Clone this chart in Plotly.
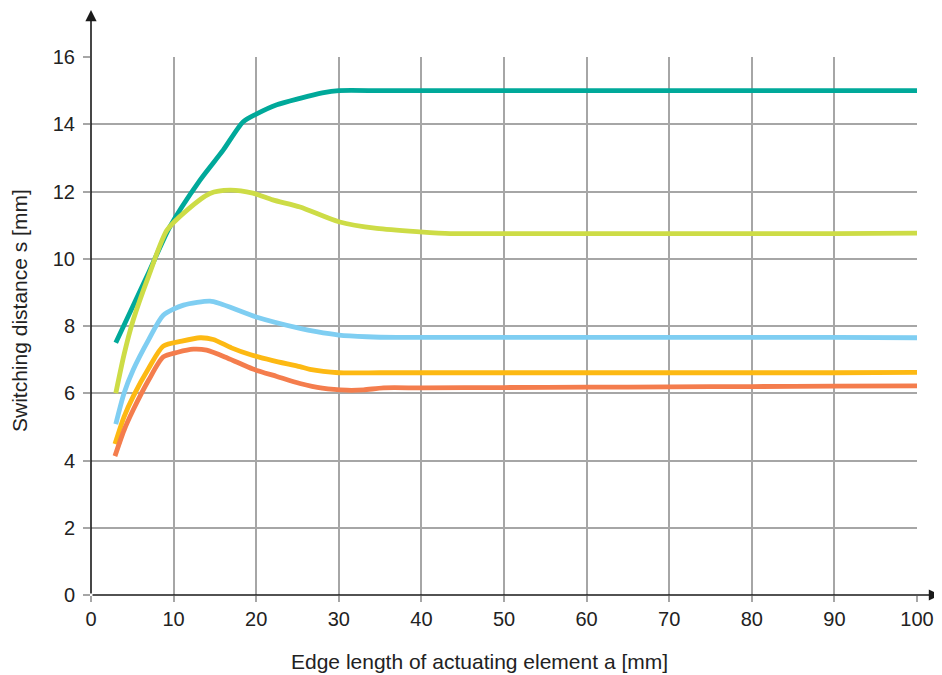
import plotly.graph_objects as go

# Data
teal_x = [3, 5, 7, 9.5, 13.2, 16, 18.4, 20, 22.5, 25.3, 28, 30, 35, 40, 50, 60, 70, 80, 90, 100]
teal_y = [7.5, 8.55, 9.6, 10.93, 12.34, 13.23, 14.07, 14.3, 14.58, 14.77, 14.93, 15.0, 15.0, 15.0, 15.0, 15.0, 15.0, 15.0, 15.0, 15.0]

lime_x = [3, 4, 5.1, 7, 9.2, 11.6, 14.4, 16.8, 19.6, 22, 25.3, 30, 34.6, 39.8, 43.5, 50, 60, 70, 80, 90, 100]
lime_y = [6.0, 7.15, 8.17, 9.5, 10.85, 11.44, 11.94, 12.04, 11.95, 11.75, 11.54, 11.1, 10.9, 10.8, 10.75, 10.75, 10.75, 10.75, 10.75, 10.75, 10.76]

blue_x = [3, 4, 5.1, 7, 8.75, 11.2, 14.4, 15.6, 20, 25.3, 27.3, 30, 33.4, 37, 40, 50, 60, 70, 80, 90, 100]
blue_y = [5.08, 6.0, 6.69, 7.6, 8.32, 8.62, 8.74, 8.67, 8.27, 7.93, 7.83, 7.73, 7.68, 7.66, 7.66, 7.66, 7.66, 7.66, 7.66, 7.66, 7.65]

orange_x = [2.9, 4, 5.1, 7, 8.75, 11, 13.2, 14.8, 17, 19.25, 22, 25.3, 26.5, 30, 35, 40, 50, 60, 70, 80, 90, 100]
orange_y = [4.49, 5.3, 5.9, 6.75, 7.4, 7.55, 7.65, 7.6, 7.35, 7.15, 6.97, 6.79, 6.71, 6.61, 6.61, 6.61, 6.61, 6.61, 6.61, 6.61, 6.61, 6.62]

red_x = [2.9, 4, 5.1, 7, 8.75, 10.5, 12.4, 14, 16.5, 19.6, 22.5, 25.3, 28, 31, 33, 35.4, 40, 50, 60, 70, 80, 90, 100]
red_y = [4.13, 4.9, 5.5, 6.4, 7.08, 7.22, 7.31, 7.28, 7.05, 6.72, 6.5, 6.29, 6.15, 6.09, 6.1, 6.16, 6.16, 6.17, 6.18, 6.19, 6.2, 6.21, 6.22]

x_ticks = [0, 10, 20, 30, 40, 50, 60, 70, 80, 90, 100]
y_ticks = [0, 2, 4, 6, 8, 10, 12, 14, 16]

x_title = "Edge length of actuating element a [mm]"
y_title = "Switching distance s [mm]"

series = [
    (teal_x, teal_y, "#00a99a"),
    (lime_x, lime_y, "#cddc46"),
    (blue_x, blue_y, "#7fcef2"),
    (orange_x, orange_y, "#fdb913"),
    (red_x, red_y, "#f47d4d"),
]

FONT = "Liberation Sans, Arial, sans-serif"
TXT = "#222222"

# page body has an 8px margin: plot area on page spans x 91..917, y 57..595
PX_PER_X = 826 / 100
PX_PER_Y = 538 / 16

fig = go.Figure()
for xs, ys, col in series:
    fig.add_trace(go.Scatter(
        x=xs, y=ys, mode="lines",
        line=dict(color=col, width=4.8, shape="spline", smoothing=0.7),
        hoverinfo="skip", showlegend=False,
    ))

fig.update_layout(
    width=934, height=667,
    margin=dict(l=83, r=25, t=49, b=80, autoexpand=False),
    paper_bgcolor="white", plot_bgcolor="white",
    font=dict(family=FONT, size=20, color=TXT),
    xaxis=dict(
        range=[0, 100], tickvals=x_ticks, ticktext=[str(v) for v in x_ticks],
        showgrid=True, gridcolor="#a6a6a6", gridwidth=1.5,
        zeroline=False, showline=False,
        ticks="outside", ticklen=6, tickcolor="#a6a6a6", tickwidth=1.5,
        tickfont=dict(family=FONT, size=20, color=TXT),
        automargin=False, fixedrange=True,
    ),
    yaxis=dict(
        range=[0, 16], tickvals=y_ticks, ticktext=[str(v) for v in y_ticks],
        showgrid=True, gridcolor="#a6a6a6", gridwidth=1.5,
        zeroline=False, showline=False,
        ticks="outside", ticklen=7, tickcolor="#a6a6a6", tickwidth=1.5,
        ticklabelstandoff=4,
        tickfont=dict(family=FONT, size=20, color=TXT),
        automargin=False, fixedrange=True,
    ),
)

# Axes with arrowheads
fig.add_annotation(
    x=0, y=(595 - 10) / PX_PER_Y, xref="x", yref="y", ax=0, ay=0, axref="x", ayref="y",
    showarrow=True, arrowhead=2, arrowsize=1.4, arrowwidth=1.6, arrowcolor="#1a1a1a", text="",
)
fig.add_annotation(
    x=(940 - 91) / PX_PER_X, y=0, xref="x", yref="y", ax=0, ay=0, axref="x", ayref="y",
    showarrow=True, arrowhead=2, arrowsize=1.4, arrowwidth=1.6, arrowcolor="#1a1a1a", text="",
)

# Axis titles
fig.add_annotation(
    x=(479 - 91) / 826, xref="paper", y=-(661 - 595) / 538, yref="paper",
    text=x_title, showarrow=False, xanchor="center", yanchor="middle",
    font=dict(family=FONT, size=21, color=TXT),
)
fig.add_annotation(
    x=-(91 - 19) / 826, xref="paper", y=(595 - 311) / 538, yref="paper",
    text=y_title, showarrow=False, textangle=-90, xanchor="center", yanchor="middle",
    font=dict(family=FONT, size=21, color=TXT),
)

fig.write_html("out.html")
